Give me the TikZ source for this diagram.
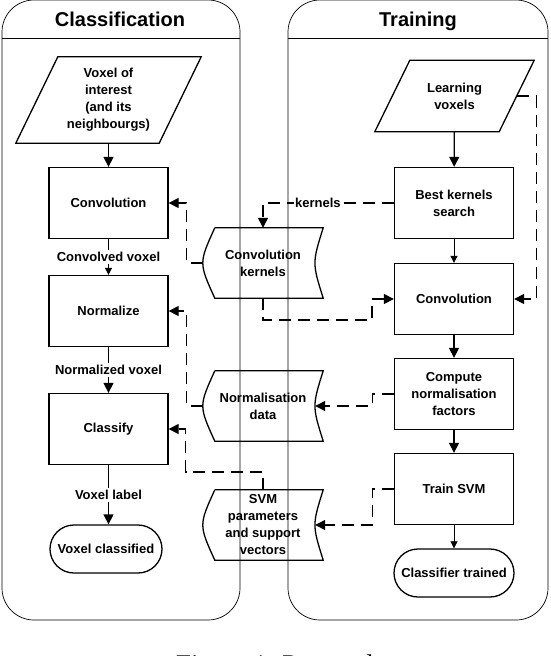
\documentclass[tikz,border=0pt]{standalone}
\usepackage{fontspec}
\setmainfont{Liberation Serif}
\setsansfont{Liberation Sans}
\usetikzlibrary{arrows.meta,calc}

\tikzset{
  lane/.style={draw, line width=0.7pt, rounded corners=32pt},
  head/.style={font=\sffamily\bfseries\fontsize{20}{24}\selectfont, anchor=base},
  txt/.style={font=\sffamily\bfseries\fontsize{13}{17}\selectfont, align=center},
  proc/.style={txt, draw, line width=1.3pt, minimum width=119pt, minimum height=71pt, inner sep=2pt},
  io/.style={txt, inner sep=1pt},
  term/.style={txt, draw, line width=1.3pt, rounded corners=24pt, minimum height=48pt, inner sep=4pt},
  store/.style={txt, minimum width=120pt, minimum height=70pt, inner sep=1pt},
  flow/.style={line width=1.3pt, -{Triangle[length=10pt,width=10pt]}},
  thinflow/.style={line width=0.7pt, -{Triangle[length=7pt,width=7pt]}},
  dataflow/.style={line width=1.3pt, dash pattern=on 12pt off 7pt, -{Triangle[length=10pt,width=10pt]}},
  lbl/.style={txt, fill=white, inner sep=2pt},
}

% outline of a stored-data node, plus its inlet on the concave side
\newcommand{\storeoutline}[1]{%
  \draw[line width=1.3pt] ($(#1.north west)+(12pt,0)$) -- (#1.north east)
    .. controls ($(#1.east)+(-11pt,0)$) .. (#1.south east)
    -- ($(#1.south west)+(12pt,0)$)
    .. controls ($(#1.west)+(-4pt,0)$) .. ($(#1.north west)+(12pt,0)$);
  \coordinate (#1-in) at ($(#1.east)+(-8pt,0)$);
}
% slanted outline of an input node (#2 = horizontal slant)
\newcommand{\iooutline}[2]{%
  \draw[line width=1.3pt] ($(#1.south west)+(-#2/2,0)$) -- ($(#1.north west)+(#2/2,0)$)
    -- ($(#1.north east)+(#2/2,0)$) -- ($(#1.south east)+(-#2/2,0)$) -- cycle;
}

\begin{document}
\begin{tikzpicture}[x=1pt,y=1pt]
\useasboundingbox (0,0) rectangle (550,-656);

% lanes
\draw[lane] (2,-300) -- (2,0) -- (240,0) -- (240,-620) -- (2,-620) -- cycle;
\draw[lane] (288,-300) -- (288,0) -- (548,0) -- (548,-620) -- (288,-620) -- cycle;
\draw[line width=0.7pt] (2,-38) -- (240,-38);
\draw[line width=0.7pt] (288,-38) -- (548,-38);
\node[head] (clshead) at (120,-26) {Classification};
\node[head] (trnhead) at (418,-26) {Training};

% classification
\node[io, minimum width=143pt, minimum height=86pt] (voi) at (108.5,-100) {Voxel of\\interest\\(and its\\neighbourgs)};
\iooutline{voi}{42pt}
\node[proc] (conv1) at (108.5,-203) {Convolution};
\node[proc] (normalize) at (108.5,-311) {Normalize};
\node[proc] (classify) at (108.5,-429) {Classify};
\node[term, minimum width=112pt] (voxdone) at (106,-549) {Voxel classified};

% data
\node[store] (kern) at (263,-263) {Convolution\\kernels};
\node[store] (normdata) at (263,-406) {Normalisation\\data};
\node[store] (svm) at (263,-525) {SVM\\parameters\\and support\\vectors};
\storeoutline{kern}
\storeoutline{normdata}
\storeoutline{svm}

% training
\node[io, minimum width=124pt, minimum height=71pt] (learn) at (454.5,-96) {Learning\\voxels};
\iooutline{learn}{35pt}
\node[proc] (best) at (454,-203) {Best kernels\\search};
\node[proc] (conv2) at (454,-299) {Convolution};
\node[proc] (comp) at (454,-394) {Compute\\normalisation\\factors};
\node[proc] (train) at (454,-489) {Train SVM};
\node[term, minimum width=120pt] (trdone) at (454,-573) {Classifier trained};

\node[font=\fontsize{27}{30}\selectfont, anchor=base] (caption) at (275,-673) {Figure 1. Protocol};

\draw[flow] (voi) -- (conv1);
\draw[thinflow] (conv1) -- node[lbl] {Convolved voxel} (normalize);
\draw[flow] (normalize) -- node[lbl] {Normalized voxel} (classify);
\draw[flow] (classify) -- node[lbl] {Voxel label} (classify |- voxdone.north);
\draw[flow] (learn) -- (best);
\draw[thinflow] (best) -- (conv2);
\draw[flow] (conv2) -- (comp);
\draw[flow] (comp) -- (train);
\draw[thinflow] (train) -- (trdone);

\draw[dataflow] (kern.west) -- ++(-16,0) |- (conv1.east);
\draw[dataflow] (normdata.west) -- ++(-16,0) |- (normalize.east);
\draw[dataflow] (svm.north) |- ($(classify.east)+(17,-43)$) |- (classify.east);
\draw[dataflow] (best.west) -| node[lbl, pos=0.29, inner sep=1pt] {kernels} (kern.north);
\draw[dataflow] (kern.south) |- ($(conv2.west)+(-22,-21)$) |- (conv2.west);
\draw[dataflow] (learn.east) -| ($(conv2.east)+(22,0)$) -- (conv2.east);
\draw[dataflow] (comp.west) -| ($(normdata.east)+(49,0)$) -- (normdata-in);
\draw[dataflow] (train.west) -| ($(svm.east)+(49,0)$) -- (svm-in);
\end{tikzpicture}
\end{document}
